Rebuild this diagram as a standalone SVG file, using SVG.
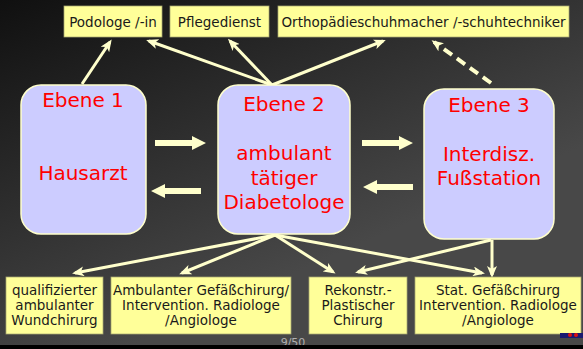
<svg xmlns="http://www.w3.org/2000/svg" width="583" height="349" viewBox="0 0 583 349">
<defs>
<linearGradient id="bg" x1="0" y1="0" x2="0.55" y2="0.75">
<stop offset="0" stop-color="#101010"/>
<stop offset="1" stop-color="#484848"/>
</linearGradient>
<marker id="ah" markerUnits="userSpaceOnUse" viewBox="0 0 12 10" markerWidth="12" markerHeight="10" refX="9" refY="5" orient="auto">
<path d="M0,0 L12,5 L0,10 L3,5 z" fill="#FFFFCC"/>
</marker>
<style>
.lvl{fill:#CCCCFF;stroke:#FFFFCC;stroke-width:1.5}
.lt{font-family:"DejaVu Sans",Verdana,sans-serif;font-size:20px;fill:#FF0000;text-anchor:middle}
.bx{fill:#FFFF99;stroke:#A8A870;stroke-width:0.75}
.bt{font-family:"DejaVu Sans",Verdana,sans-serif;font-size:13.5px;fill:#1a1a1a;text-anchor:middle}
.ln{stroke:#FFFFCC;stroke-width:3;fill:none;marker-end:url(#ah)}
.dash{stroke-dasharray:10 6;stroke-width:4}
.blk{fill:#FFFFCC}
</style>
</defs>
<rect x="0" y="0" width="583" height="349" fill="url(#bg)"/>

<g id="connectors">
<line class="ln" x1="82" y1="84" x2="110" y2="42"/>
<line class="ln" x1="272" y1="85" x2="149" y2="41"/>
<line class="ln" x1="272" y1="85" x2="230" y2="41"/>
<line class="ln" x1="272" y1="85" x2="383" y2="41"/>
<line class="ln dash" x1="491" y1="83" x2="434" y2="42"/>
<polygon class="blk" points="155,140 192,140 192,136 206,143 192,150 192,146 155,146"/>
<polygon class="blk" points="201,188 165,188 165,184 151,191 165,198 165,194 201,194"/>
<polygon class="blk" points="362,140 399,140 399,136 413,143 399,150 399,146 362,146"/>
<polygon class="blk" points="413,184 377,184 377,180 363,187 377,194 377,190 413,190"/>
<line class="ln" x1="275" y1="235" x2="75" y2="273"/>
<line class="ln" x1="275" y1="235" x2="182" y2="273"/>
<line class="ln" x1="275" y1="235" x2="333" y2="272"/>
<line class="ln" x1="275" y1="235" x2="482" y2="273"/>
<line class="ln" x1="491" y1="240" x2="358" y2="272"/>
<line class="ln" x1="492" y1="240" x2="492" y2="275"/>
</g>

<g id="podologe"><rect class="bx" x="64" y="6" width="98" height="31"/><text class="bt" x="113" y="27">Podologe /-in</text></g>
<g id="pflegedienst"><rect class="bx" x="170" y="6" width="99" height="31"/><text class="bt" x="219.5" y="27">Pflegedienst</text></g>
<g id="ortho"><rect class="bx" x="278" y="6" width="291" height="31"/><text class="bt" x="423.5" y="27">Orthopädieschuhmacher /-schuhtechniker</text></g>

<g id="ebene1"><rect class="lvl" x="21" y="85" width="125" height="149" rx="20"/>
<text class="lt" x="83" y="107">Ebene 1</text>
<text class="lt" x="83" y="180">Hausarzt</text></g>
<g id="ebene2"><rect class="lvl" x="218" y="85" width="132" height="149" rx="20"/>
<text class="lt" x="284" y="111">Ebene 2</text>
<text class="lt" x="284" y="160">ambulant</text>
<text class="lt" x="284" y="185">tätiger</text>
<text class="lt" x="284" y="209">Diabetologe</text></g>
<g id="ebene3"><rect class="lvl" x="424" y="89" width="130" height="150" rx="20"/>
<text class="lt" x="489" y="112">Ebene 3</text>
<text class="lt" x="489" y="161">Interdisz.</text>
<text class="lt" x="489" y="185">Fußstation</text></g>

<g id="wundchirurg"><rect class="bx" x="6" y="277" width="97" height="57"/>
<text class="bt" x="54.5" y="295">qualifizierter</text>
<text class="bt" x="54.5" y="310">ambulanter</text>
<text class="bt" x="54.5" y="325">Wundchirurg</text></g>
<g id="amb-gefaess"><rect class="bx" x="111" y="277" width="180" height="57"/>
<text class="bt" x="201" y="295">Ambulanter Gefäßchirurg/</text>
<text class="bt" x="201" y="310">Intervention. Radiologe</text>
<text class="bt" x="201" y="325">/Angiologe</text></g>
<g id="rekonstr"><rect class="bx" x="309" y="277" width="98" height="57"/>
<text class="bt" x="358" y="295">Rekonstr.-</text>
<text class="bt" x="358" y="310">Plastischer</text>
<text class="bt" x="358" y="325">Chirurg</text></g>
<g id="stat-gefaess"><rect class="bx" x="415" y="277" width="166" height="57"/>
<text class="bt" x="498" y="295">Stat. Gefäßchirurg</text>
<text class="bt" x="498" y="310">Intervention. Radiologe</text>
<text class="bt" x="498" y="325">/Angiologe</text></g>

<text x="293" y="346" font-family="DejaVu Sans,sans-serif" font-size="11" fill="#b0b0b0" text-anchor="middle">9/50</text>
<rect x="560" y="333" width="23" height="5" fill="#1a1a70"/>
<circle cx="570" cy="335" r="2" fill="#dd1111"/>
<circle cx="576" cy="335" r="2" fill="#dd1111"/>
<rect x="0" y="345" width="583" height="4" fill="#000"/>
</svg>
